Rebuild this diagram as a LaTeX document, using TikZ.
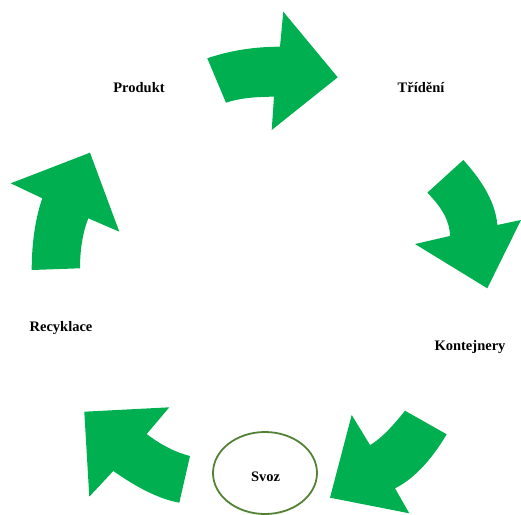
\documentclass[tikz,border=0pt]{standalone}
\usepackage{fontspec}
\setmainfont{Liberation Serif}
\usetikzlibrary{shapes.geometric}
\definecolor{arrowgreen}{HTML}{00B050}
\definecolor{ringgreen}{HTML}{548235}
\tikzset{
  cyclearrow/.style={fill=arrowgreen, draw=none},
  label/.style={font=\fontsize{14.5}{17}\selectfont\bfseries, inner sep=0pt},
}
\begin{document}
\begin{tikzpicture}[x=1pt,y=-1pt]
\useasboundingbox (0,0) rectangle (521,514);
\clip (0,0) rectangle (521,514);
% top arrow (Produkt -> Trideni)
\fill[cyclearrow] (207.3,58.3) .. controls (229.8,50.6) and (254,46.7) .. (280,46.7)
  -- (283.3,11.7) -- (337.7,77.3) -- (271.7,130) -- (274,96.7)
  .. controls (253.5,96.7) and (237.5,98.7) .. (226,102.7) -- cycle;
% right arrow (Trideni -> Kontejnery)
\fill[cyclearrow] (427.3,192.7) -- (463.3,160) .. controls (484.4,183.1) and (495.8,204.8) .. (497.3,225)
  -- (521,220) -- (487.3,288.3) -- (415,244) -- (450,236)
  .. controls (450,222.2) and (442.4,207.8) .. (427.3,192.7) -- cycle;
% lower right arrow (Kontejnery -> Svoz)
\fill[cyclearrow] (405,410.7) -- (446.7,434.3) .. controls (430.6,461.2) and (413.3,479.2) .. (395,488.3)
  -- (409.3,513.3) -- (330,497.7) -- (351.7,415) -- (370,445)
  .. controls (378.5,440.5) and (390.2,429.4) .. (405,410.7) -- cycle;
% lower left arrow (Svoz -> Recyklace)
\fill[cyclearrow] (169.3,407.3) -- (84.3,411.7) -- (89.3,496.7) -- (113.3,471)
  .. controls (138,488.3) and (159.6,499.1) .. (179.3,502.7) -- (190,456)
  .. controls (174.7,452.1) and (160.9,444.8) .. (146.7,434) -- cycle;
% left arrow (Recyklace -> Produkt)
\fill[cyclearrow] (31.7,270) -- (80,268.3) .. controls (80,248.9) and (82.9,232.2) .. (88.3,218.3)
  -- (119.3,231.7) -- (90,152.7) -- (10.7,183.3) -- (42.3,198.3)
  .. controls (35.2,218.6) and (31.7,243.7) .. (31.7,270) -- cycle;
% labels
\node[label] (produkt) at (139,88) {Produkt};
\node[label] (trideni) at (421,87) {Třídění};
\node[label] (kontejnery) at (470,347) {Kontejnery};
\node[label] (recyklace) at (61,328) {Recyklace};
\node[ellipse, draw=ringgreen, line width=1.8pt, minimum width=104pt, minimum height=82pt] (svozring) at (265,473) {};
\node[label] (svoz) at (265.5,477) {Svoz};
\end{tikzpicture}
\end{document}
